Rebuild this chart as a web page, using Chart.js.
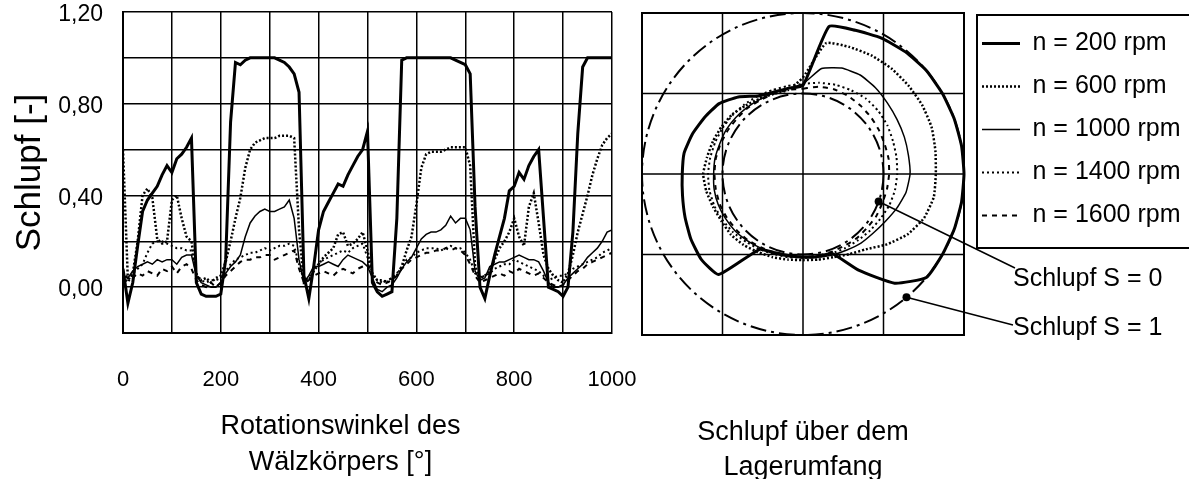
<!DOCTYPE html>
<html>
<head>
<meta charset="utf-8">
<script src="https://cdn.jsdelivr.net/npm/chart.js@4.4.0/dist/chart.umd.min.js"></script>
<style>
  html, body { margin: 0; padding: 0; background: #fff; overflow: hidden; }
  body { width: 1189px; height: 479px; position: relative; }
  #left { position: absolute; left: 0; top: 0; }
  #right { position: absolute; left: 630px; top: 0; }
</style>
</head>
<body>
<div id="left"><canvas id="lineChart" width="660" height="479"></canvas></div>
<div id="right"><canvas id="polarChart" width="600" height="479"></canvas></div>
<script>
// rotation angle of the rolling element [°]
const rollAngle = [
  0, 10, 20, 30, 40, 50, 60, 70, 80, 90,
  100, 110, 120, 130, 140, 150, 160, 170, 180, 190,
  200, 210, 220, 230, 240, 250, 260, 270, 280, 290,
  300, 310, 320, 330, 340, 350, 360, 370, 380, 390,
  400, 410, 420, 430, 440, 450, 460, 470, 480, 490,
  500, 510, 520, 530, 540, 550, 560, 570, 580, 590,
  600, 610, 620, 630, 640, 650, 660, 670, 680, 690,
  700, 710, 720, 730, 740, 750, 760, 770, 780, 790,
  800, 810, 820, 830, 840, 850, 860, 870, 880, 890,
  900, 910, 920, 930, 940, 950, 960, 970, 980, 990,
  1000
];

const slip200 = [
  0.08, -0.07, 0.02, 0.18, 0.33, 0.38, 0.41, 0.44, 0.49, 0.53,
  0.5, 0.56, 0.58, 0.61, 0.65, 0.02, -0.03, -0.04, -0.04, -0.04,
  -0.03, 0.12, 0.72, 0.98, 0.97, 0.99, 1.0, 1.0, 1.0, 1.0,
  1.0, 1.0, 0.99, 0.98, 0.96, 0.93, 0.85, 0.05, -0.05, 0.09,
  0.25, 0.33, 0.37, 0.41, 0.45, 0.44, 0.49, 0.53, 0.57, 0.6,
  0.68, 0.02, -0.02, -0.04, -0.03, -0.02, 0.3, 0.99, 1.0, 1.0,
  1.0, 1.0, 1.0, 1.0, 1.0, 1.0, 1.0, 1.0, 0.99, 0.98,
  0.97, 0.93, 0.35, 0.0, -0.05, 0.05, 0.14, 0.22, 0.3, 0.42,
  0.44, 0.5, 0.47, 0.53, 0.57, 0.6, 0.3, 0.0, -0.01, -0.02,
  -0.04, 0.0, 0.24, 0.67, 0.96, 1.0, 1.0, 1.0, 1.0, 1.0,
  1.0
];
const slip600 = [
  0.6, 0.03, 0.06, 0.2, 0.4, 0.43, 0.39, 0.21, 0.19, 0.2,
  0.38, 0.4, 0.3, 0.22, 0.2, 0.05, 0.03, 0.04, 0.02, 0.04,
  0.05, 0.11, 0.2, 0.3, 0.39, 0.52, 0.6, 0.63, 0.64, 0.65,
  0.65, 0.65, 0.66, 0.66, 0.66, 0.65, 0.25, 0.02, 0.03, 0.07,
  0.1, 0.13, 0.15, 0.17, 0.23, 0.24, 0.18, 0.19, 0.21, 0.24,
  0.16, 0.06, 0.03, 0.03, 0.02, 0.04, 0.05, 0.09, 0.16, 0.22,
  0.36, 0.52, 0.58, 0.59, 0.59, 0.59, 0.6, 0.61, 0.61, 0.61,
  0.61, 0.53, 0.09, 0.04, 0.05, 0.07, 0.12, 0.17, 0.2, 0.24,
  0.3, 0.22, 0.18, 0.35, 0.41, 0.28, 0.14, 0.08, 0.05, 0.03,
  0.02, 0.06, 0.14, 0.24, 0.32, 0.4, 0.49, 0.56, 0.62, 0.65,
  0.67
];
const slip1000 = [
  0.05, 0.04, 0.07, 0.09, 0.1, 0.11, 0.1, 0.12, 0.11, 0.12,
  0.12, 0.1, 0.13, 0.14, 0.14, 0.05, 0.02, 0.01, 0.0, 0.0,
  0.02, 0.06, 0.09, 0.11, 0.14, 0.22, 0.28, 0.31, 0.33, 0.34,
  0.33, 0.33, 0.34, 0.35, 0.38, 0.3, 0.12, 0.02, 0.05, 0.09,
  0.09, 0.1, 0.11, 0.1, 0.09, 0.12, 0.14, 0.13, 0.12, 0.11,
  0.09, 0.04, -0.01, -0.02, 0.0, 0.01, 0.04, 0.08, 0.11, 0.13,
  0.17, 0.21, 0.23, 0.24, 0.24, 0.25, 0.27, 0.31, 0.28, 0.3,
  0.3, 0.25, 0.07, 0.03, 0.04, 0.09, 0.1, 0.11, 0.11, 0.12,
  0.13, 0.14, 0.13, 0.12, 0.12, 0.11, 0.07, 0.02, 0.0, 0.0,
  0.01, 0.04, 0.06, 0.08, 0.1, 0.13, 0.15, 0.17, 0.2, 0.24,
  0.25
];
const slip1400 = [
  0.05, 0.02, 0.06, 0.08, 0.1, 0.15, 0.19, 0.2, 0.2, 0.19,
  0.18, 0.17, 0.17, 0.16, 0.16, 0.06, 0.03, 0.02, 0.03, 0.03,
  0.04, 0.07, 0.1, 0.12, 0.13, 0.14, 0.15, 0.15, 0.16, 0.17,
  0.16, 0.17, 0.18, 0.18, 0.19, 0.18, 0.1, 0.03, 0.04, 0.08,
  0.1, 0.12, 0.13, 0.14, 0.15, 0.16, 0.15, 0.17, 0.18, 0.19,
  0.13, 0.05, 0.03, 0.02, 0.03, 0.04, 0.06, 0.09, 0.12, 0.13,
  0.15, 0.16, 0.17, 0.17, 0.17, 0.16, 0.17, 0.18, 0.17, 0.17,
  0.15, 0.12, 0.06, 0.04, 0.05, 0.06, 0.08, 0.09, 0.1, 0.1,
  0.12, 0.11, 0.1, 0.09, 0.08, 0.07, 0.05, 0.03, 0.04, 0.05,
  0.05, 0.06, 0.08, 0.09, 0.1, 0.11, 0.12, 0.13, 0.15, 0.16,
  0.17
];
const slip1600 = [
  0.04, 0.05, 0.04, 0.06, 0.05, 0.07, 0.06, 0.05, 0.08, 0.07,
  0.09, 0.06, 0.09, 0.1, 0.08, 0.03, 0.01, 0.0, 0.02, 0.0,
  0.02, 0.05, 0.07, 0.09, 0.11, 0.12, 0.12, 0.13, 0.13, 0.14,
  0.14, 0.12, 0.13, 0.14, 0.15, 0.16, 0.08, 0.02, 0.03, 0.05,
  0.06, 0.07, 0.06, 0.05, 0.07, 0.08, 0.07, 0.06, 0.08, 0.09,
  0.1, 0.05, 0.02, 0.01, 0.02, 0.03, 0.05, 0.08, 0.1, 0.12,
  0.13, 0.14, 0.15, 0.15, 0.16, 0.16, 0.17, 0.16, 0.17, 0.16,
  0.14, 0.1, 0.05, 0.02, 0.03, 0.04, 0.05, 0.06, 0.05, 0.07,
  0.06, 0.08, 0.07, 0.06, 0.05, 0.06, 0.04, 0.02, 0.01, 0.0,
  0.01, 0.03, 0.05, 0.07, 0.08, 0.1, 0.11, 0.12, 0.13, 0.14,
  0.15
];

// position on the bearing circumference [°], clockwise from top
const bearingAngle = [
  0, 10, 20, 30, 40, 50, 60, 70, 80, 90, 100, 110,
  120, 130, 140, 150, 160, 170, 180, 190, 200, 210, 220, 230,
  240, 250, 260, 270, 280, 290, 300, 310, 320, 330, 340, 350
];
const ring200 = [0.1, 0.86, 0.9, 0.95, 0.98, 1, 1, 1, 1, 1, 1, 1, 1, 1, 0.77, 0.38, 0.05, 0.04,
  0.03, 0.03, 0.04, 0.08, 0.63, 0.65, 0.61, 0.56, 0.52, 0.5, 0.5, 0.46, 0.41, 0.36, 0.25, 0.12, 0.08, 0.08];
const ring600 = [0.2, 0.65, 0.68, 0.7, 0.71, 0.71, 0.71, 0.7, 0.67, 0.65, 0.65, 0.6, 0.5, 0.36, 0.22, 0.15, 0.1, 0.08,
  0.07, 0.08, 0.1, 0.12, 0.15, 0.17, 0.17, 0.19, 0.22, 0.24, 0.21, 0.19, 0.17, 0.15, 0.11, 0.08, 0.06, 0.06];
const ring1000 = [0.12, 0.33, 0.4, 0.42, 0.4, 0.37, 0.35, 0.34, 0.33, 0.33, 0.3, 0.24, 0.18, 0.14, 0.12, 0.09, 0.07, 0.05,
  0.04, 0.04, 0.05, 0.06, 0.08, 0.1, 0.11, 0.12, 0.12, 0.11, 0.11, 0.1, 0.1, 0.09, 0.08, 0.07, 0.07, 0.08];
const ring1400 = [0.12, 0.15, 0.18, 0.2, 0.22, 0.22, 0.21, 0.19, 0.18, 0.17, 0.16, 0.14, 0.11, 0.09, 0.07, 0.06, 0.05, 0.05,
  0.04, 0.05, 0.06, 0.08, 0.1, 0.13, 0.15, 0.17, 0.18, 0.18, 0.17, 0.16, 0.15, 0.14, 0.13, 0.12, 0.11, 0.11];
const ring1600 = [0.06, 0.1, 0.12, 0.12, 0.11, 0.1, 0.09, 0.08, 0.08, 0.07, 0.06, 0.05, 0.05, 0.04, 0.04, 0.03, 0.03, 0.03,
  0.03, 0.03, 0.04, 0.05, 0.07, 0.08, 0.09, 0.1, 0.1, 0.1, 0.1, 0.09, 0.08, 0.07, 0.07, 0.06, 0.06, 0.06];

const speeds = ['n = 200 rpm', 'n = 600 rpm', 'n = 1000 rpm', 'n = 1400 rpm', 'n = 1600 rpm'];
const styles = [
  { borderWidth: 3, borderDash: [] },
  { borderWidth: 2.5, borderDash: [2, 2] },
  { borderWidth: 1.5, borderDash: [] },
  { borderWidth: 2, borderDash: [2, 3] },
  { borderWidth: 2, borderDash: [5, 5] }
];

Chart.defaults.font.family = "'Liberation Sans', Arial, sans-serif";
Chart.defaults.color = '#000';

const xy = arr => arr.map((v, i) => ({ x: rollAngle[i], y: v }));

const xTitle = {
    id: 'xTitle',
    afterDraw(chart) {
        const ctx = chart.ctx;
        const a = chart.chartArea;
        const cx = (a.left + a.right) / 2 - 27;
        ctx.save();
        ctx.fillStyle = '#000';
        ctx.font = "27px 'Liberation Sans', Arial, sans-serif";
        ctx.textAlign = 'center';
        ctx.textBaseline = 'middle';
        ctx.fillText('Rotationswinkel des', cx, 427);
        ctx.fillText('Wälzkörpers [°]', cx, 463);
        ctx.restore();
    }
};

const line = document.getElementById('lineChart');

new Chart(line, {
    type: 'line',
    data: {
        datasets: [slip200, slip600, slip1000, slip1400, slip1600].map((s, i) => ({
            label: speeds[i],
            data: xy(s),
            borderColor: '#000',
            borderWidth: styles[i].borderWidth,
            borderDash: styles[i].borderDash,
            pointRadius: 0,
            fill: false,
            tension: 0
        }))
    },
    options: {
        responsive: false,
        animation: false,
        layout: { padding: { top: 12, right: 48, left: 0, bottom: 0 } },
        plugins: {
            legend: { display: false },
            tooltip: { enabled: false }
        },
        scales: {
            x: {
                type: 'linear',
                min: 0,
                max: 1000,
                ticks: {
                    stepSize: 100,
                    autoSkip: false,
                    maxRotation: 0,
                    padding: 34,
                    font: { size: 22 },
                    color: '#000',
                    callback: v => (v % 200 === 0 ? String(v) : '')
                },
                grid: { color: '#000', lineWidth: 1.5, drawTicks: false },
                border: { color: '#000', width: 2 },
                afterFit: s => {
                    s.height = 146;
                    s.paddingLeft = 0;
                    s.paddingRight = 0;
                }
            },
            y: {
                min: -0.2,
                max: 1.2,
                ticks: {
                    stepSize: 0.2,
                    padding: 20,
                    labelOffset: 3,
                    font: { size: 23 },
                    color: '#000',
                    callback: v => {
                        const k = Math.round(v * 100);
                        return k >= 0 && k % 40 === 0 ? (k / 100).toFixed(2).replace('.', ',') : '';
                    }
                },
                grid: { color: '#000', lineWidth: 1.5, drawTicks: false },
                border: { color: '#000', width: 2 },
                title: {
                    display: true,
                    text: 'Schlupf [-]',
                    color: '#000',
                    font: { size: 35 },
                    padding: { top: 9, bottom: 0 }
                },
                afterFit: s => {
                    s.width = 123;
                    s.paddingTop = 0;
                    s.paddingBottom = 0;
                }
            }
        }
    },
    plugins: [xTitle]
});

const polarFrame = {
    id: 'polarFrame',
    beforeDraw(chart) {
        const r = chart.scales.r;
        const ctx = chart.ctx;
        const R = r.drawingArea;
        const cx = r.xCenter, cy = r.yCenter;
        ctx.save();
        ctx.strokeStyle = '#000';
        ctx.lineWidth = 1.5;
        ctx.beginPath();
        [-R / 2, 0, R / 2].forEach(d => {
            ctx.moveTo(cx + d, cy - R);
            ctx.lineTo(cx + d, cy + R);
            ctx.moveTo(cx - R, cy + d);
            ctx.lineTo(cx + R, cy + d);
        });
        ctx.stroke();
        ctx.lineWidth = 2;
        ctx.strokeRect(cx - R, cy - R, 2 * R, 2 * R);
        ctx.restore();
    },
    afterDraw(chart) {
        const r = chart.scales.r;
        const ctx = chart.ctx;
        const lg = chart.legend;
        const tx = lg.left + 49;
        const p0 = r.getPointPositionForValue(11, 0);
        const p1 = r.getPointPositionForValue(14, 1);
        ctx.save();
        ctx.strokeStyle = '#000';
        ctx.fillStyle = '#000';
        ctx.lineWidth = 1.5;
        ctx.beginPath();
        ctx.moveTo(p0.x, p0.y);
        ctx.lineTo(tx + 2, 268);
        ctx.moveTo(p1.x, p1.y);
        ctx.lineTo(tx, 325);
        ctx.stroke();
        [p0, p1].forEach(p => {
            ctx.beginPath();
            ctx.arc(p.x, p.y, 4, 0, 2 * Math.PI);
            ctx.fill();
        });
        ctx.font = "25px 'Liberation Sans', Arial, sans-serif";
        ctx.textBaseline = 'middle';
        ctx.textAlign = 'left';
        ctx.fillText('Schlupf S = 0', tx, 279);
        ctx.fillText('Schlupf S = 1', tx, 328);

        const hb = lg.legendHitBoxes;
        const last = hb[hb.length - 1];
        ctx.lineWidth = 2;
        ctx.strokeRect(lg.left + 13, lg.top + 2, 400, last.top + last.height + 20 - lg.top - 2);

        ctx.font = "27px 'Liberation Sans', Arial, sans-serif";
        ctx.textAlign = 'center';
        ctx.fillText('Schlupf über dem', r.xCenter, 433);
        ctx.fillText('Lagerumfang', r.xCenter, 468);
        ctx.restore();
    }
};

const polar = document.getElementById('polarChart');

new Chart(polar, {
    type: 'radar',
    data: {
        labels: bearingAngle,
        datasets: [ring200, ring600, ring1000, ring1400, ring1600].map((s, i) => ({
            label: speeds[i],
            data: s,
            borderColor: '#000',
            backgroundColor: 'rgba(0,0,0,0)',
            borderWidth: styles[i].borderWidth,
            borderDash: styles[i].borderDash,
            pointStyle: 'line',
            pointRadius: 0,
            pointHoverRadius: 0,
            fill: false,
            tension: 0.15
        }))
    },
    options: {
        responsive: false,
        animation: false,
        layout: { padding: { left: 12, top: 13, right: 46, bottom: 144 } },
        plugins: {
            legend: {
                position: 'right',
                align: 'start',
                maxWidth: 220,
                labels: {
                    usePointStyle: true,
                    pointStyleWidth: 38,
                    padding: 18,
                    color: '#000',
                    font: { size: 25 },
                    generateLabels: chart =>
                        Chart.defaults.plugins.legend.labels.generateLabels(chart).map((item, i) =>
                            Object.assign(item, {
                                lineDash: styles[i].borderDash,
                                lineWidth: styles[i].borderWidth,
                                strokeStyle: '#000'
                            }))
                }
            },
            tooltip: { enabled: false }
        },
        scales: {
            r: {
                min: -1,
                max: 1,
                ticks: { display: false, stepSize: 1 },
                pointLabels: { display: false },
                angleLines: { display: false },
                grid: {
                    circular: true,
                    lineWidth: 2,
                    color: c => (c.tick && c.tick.value < 0 ? 'rgba(0,0,0,0)' : '#000')
                },
                border: { dash: [16, 5, 3, 5] }
            }
        }
    },
    plugins: [polarFrame]
});
</script>
</body>
</html>
